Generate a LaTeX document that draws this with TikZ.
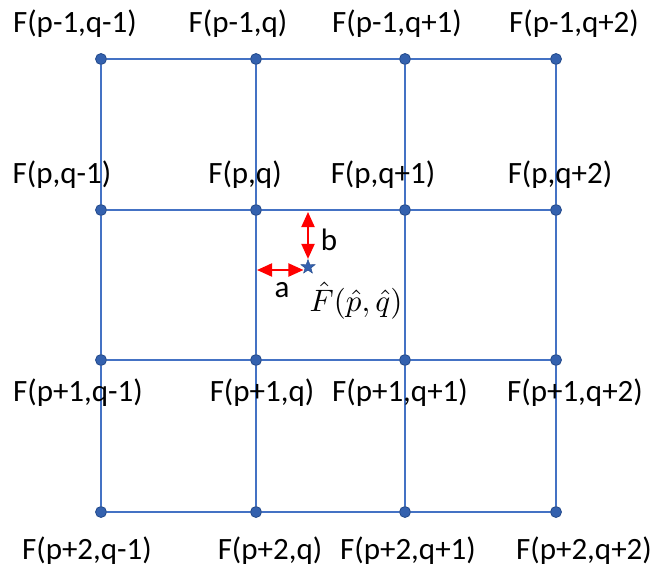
\documentclass[tikz,border=0pt]{standalone}
\usepackage{fontspec}
\setmainfont{Carlito}
\usepackage{amsmath}
\usetikzlibrary{arrows.meta,shapes.geometric}
\definecolor{gitterMavi}{HTML}{4472C4}
\definecolor{noktaMavi}{HTML}{3461AE}
\definecolor{noktaKenar}{HTML}{234A8C}
\definecolor{okKirmizi}{HTML}{FF0000}

\begin{document}
\begin{tikzpicture}[x=1pt,y=-1pt,
  nokta/.style={circle,fill=noktaMavi,draw=noktaKenar,line width=0.8pt,inner sep=0pt,minimum size=11pt},
  etiket/.style={font=\fontsize{31}{36}\selectfont,inner sep=0pt},
  uzaklik/.style={okKirmizi,line width=2pt,{Triangle[length=15pt,width=13pt]}-{Triangle[length=15pt,width=13pt]}}]
\useasboundingbox (0,0) rectangle (652,575);
% grid points
\foreach \r/\yy in {1/59,2/210,3/360,4/512}
  \foreach \c/\xx in {1/101,2/256,3/405,4/556}
    \node[nokta] (g\r\c) at (\xx,\yy) {};
% grid lines
\foreach \r in {1,...,4}
  \draw[gitterMavi,line width=1.3pt] (g\r1) -- (g\r2) -- (g\r3) -- (g\r4);
\foreach \c in {1,...,4}
  \draw[gitterMavi,line width=1.3pt] (g1\c) -- (g2\c) -- (g3\c) -- (g4\c);
% labels
\node[etiket] (l11) at (75,24) {F(p-1,q-1)};
\node[etiket] (l12) at (238,24) {F(p-1,q)};
\node[etiket] (l13) at (397,24) {F(p-1,q+1)};
\node[etiket] (l14) at (574,24) {F(p-1,q+2)};
\node[etiket] (l21) at (62,175) {F(p,q-1)};
\node[etiket] (l22) at (245,175) {F(p,q)};
\node[etiket] (l23) at (383,175) {F(p,q+1)};
\node[etiket] (l24) at (560,175) {F(p,q+2)};
\node[etiket] (l31) at (78,393) {F(p+1,q-1)};
\node[etiket] (l32) at (262,393) {F(p+1,q)};
\node[etiket] (l33) at (400,393) {F(p+1,q+1)};
\node[etiket] (l34) at (575,393) {F(p+1,q+2)};
\node[etiket] (l41) at (87,551) {F(p+2,q-1)};
\node[etiket] (l42) at (270,551) {F(p+2,q)};
\node[etiket] (l43) at (408,551) {F(p+2,q+1)};
\node[etiket] (l44) at (584,551) {F(p+2,q+2)};
% interpolated point
\node[star,star points=5,star point ratio=2.4,fill=noktaMavi,draw=noktaKenar,line width=0.4pt,inner sep=0pt,minimum size=15pt] (s) at (308,267) {};
\coordinate (ust) at (308,212);
\coordinate (sol) at (257,270);
\draw[uzaklik] (ust) -- (s.north);
\draw[uzaklik] (sol) -- (s.west |- sol);
\node[etiket] (b) at (329,240) {b};
\node[etiket] (a) at (282,290) {a};
\node[inner sep=0pt,scale=3.1,transform shape] (fh) at (356,301) {$\hat{F}(\hat{p},\hat{q})$};
\end{tikzpicture}
\end{document}
